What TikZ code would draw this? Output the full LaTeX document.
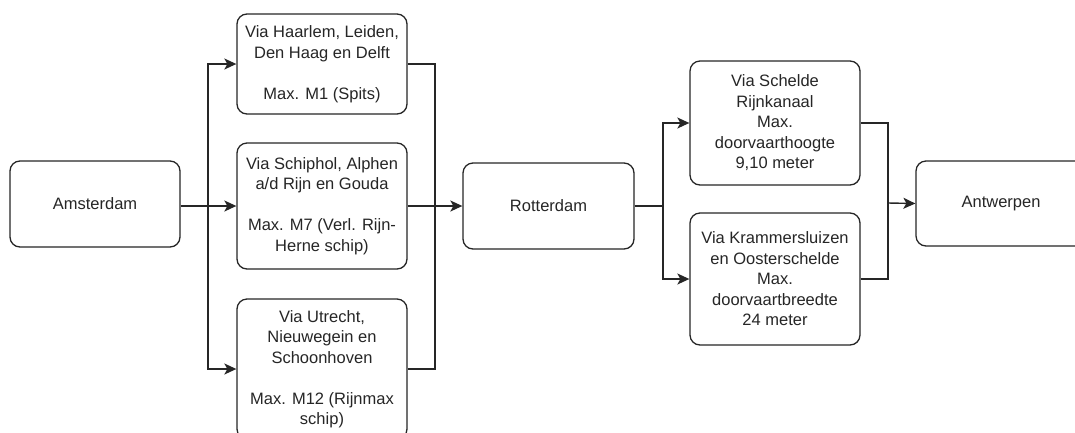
\documentclass[tikz,border=0pt]{standalone}
\usepackage{fontspec}
\setmainfont{Liberation Sans}
\usetikzlibrary{arrows.meta}
\begin{document}
\begin{tikzpicture}[x=1pt,y=-1pt,
  box/.style={draw=black!85, line width=1.3pt, rounded corners=10pt, fill=white,
    align=center, inner sep=0pt, text=black!85,
    font=\fontsize{16.5}{20.5}\selectfont},
  link/.style={draw=black!85, line width=1.4pt},
  arr/.style={link, -{Stealth[length=12pt,width=11pt,inset=3pt]}}]
\useasboundingbox (0,0) rectangle (1075,432);
\clip (0,0) rectangle (1075,432);

% cities
\node[box, minimum width=170pt, minimum height=86pt] (ams) at (95,204) {Amsterdam};
\node[box, minimum width=171pt, minimum height=86pt] (rot) at (548.5,206) {Rotterdam};
\node[box, minimum width=170pt, minimum height=85pt] (ant) at (1001,203.5) {Antwerpen};

% routes Amsterdam - Rotterdam
\node[box, minimum width=170pt, minimum height=100pt] (r1) at (322,64)
  {Via Haarlem, Leiden,\\Den Haag en Delft\\[20.5pt]Max. M1 (Spits)};
\node[box, minimum width=170pt, minimum height=126pt] (r2) at (322,206)
  {Via Schiphol, Alphen\\a/d Rijn en Gouda\\[20.5pt]Max. M7 (Verl. Rijn-\\Herne schip)};
\node[box, minimum width=170pt, minimum height=140pt] (r3) at (322,369)
  {Via Utrecht,\\Nieuwegein en\\Schoonhoven\\[20.5pt]Max. M12 (Rijnmax\\schip)};

% routes Rotterdam - Antwerpen
\node[box, minimum width=170pt, minimum height=124pt] (r4) at (775,123)
  {Via Schelde\\Rijnkanaal\\Max.\\doorvaarthoogte\\9,10 meter};
\node[box, minimum width=170pt, minimum height=132pt] (r5) at (775,279)
  {Via Krammersluizen\\en Oosterschelde\\Max.\\doorvaartbreedte\\24 meter};

% branch and merge points
\coordinate (s1) at (208,206);
\coordinate (m1) at (435,206);
\coordinate (s2) at (663,206);
\coordinate (m2) at (888,203);

% Amsterdam fans out
\draw[link] (ams.east |- s1) -- (s1);
\draw[arr] (s1) |- (r1.west);
\draw[arr] (s1) -- (r2.west);
\draw[arr] (s1) |- (r3.west);

% merge into Rotterdam
\draw[link] (r1.east) -| (m1);
\draw[link] (r3.east) -| (m1);
\draw[link] (r2.east) -- (m1);
\draw[arr] (m1) -- (rot.west);

% Rotterdam fans out
\draw[link] (rot.east) -- (s2);
\draw[arr] (s2) |- (r4.west);
\draw[arr] (s2) |- (r5.west);

% merge into Antwerpen
\draw[link] (r4.east) -| (m2);
\draw[link] (r5.east) -| (m2);
\draw[arr] (m2) -- (ant.west);
\end{tikzpicture}
\end{document}
